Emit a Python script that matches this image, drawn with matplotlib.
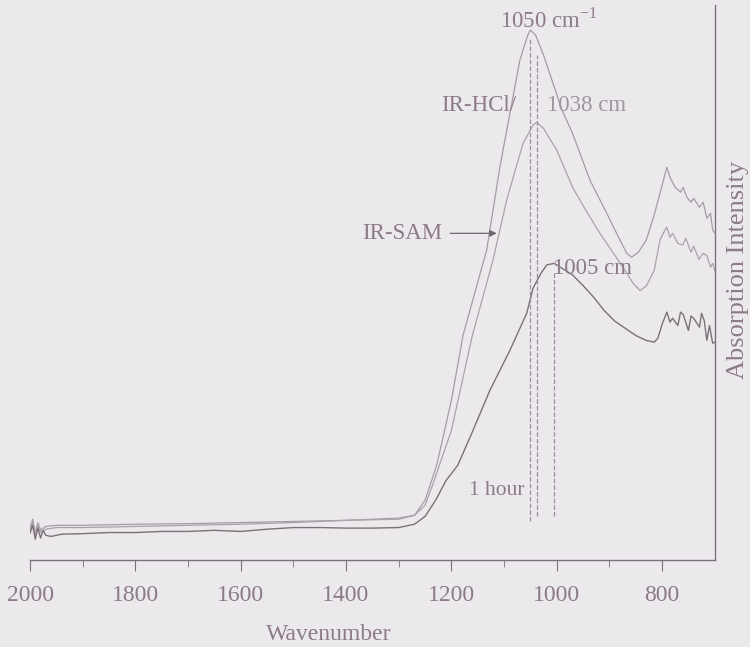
import matplotlib.pyplot as plt

plt.rcParams['font.family'] = ['Liberation Serif', 'DejaVu Serif']
plt.rcParams['mathtext.fontset'] = 'custom'
plt.rcParams['mathtext.rm'] = 'Liberation Serif'

# spectra (absorption in arbitrary units, 0 = axis line)
wn_1h = [2000, 1995, 1990, 1985, 1980, 1975, 1970, 1960, 1940, 1900, 1850, 1800, 1750,
         1700, 1650, 1600, 1550, 1500, 1450, 1400, 1350, 1300, 1270, 1250, 1230, 1210,
         1188, 1163, 1127, 1089, 1057, 1045, 1030, 1019, 1005, 990, 970, 950, 930, 910,
         890, 870, 850, 830, 815, 808, 800, 791, 785, 780, 770, 765, 760, 750, 745, 740,
         729, 725, 720, 715, 710, 704, 700]
ab_1h = [0.049, 0.063, 0.038, 0.058, 0.040, 0.054, 0.045, 0.043, 0.047, 0.048, 0.050,
         0.050, 0.052, 0.052, 0.054, 0.052, 0.056, 0.059, 0.059, 0.058, 0.058, 0.059,
         0.065, 0.079, 0.108, 0.144, 0.171, 0.225, 0.306, 0.378, 0.445, 0.490, 0.517,
         0.532, 0.535, 0.526, 0.514, 0.495, 0.474, 0.450, 0.431, 0.418, 0.405, 0.396,
         0.393, 0.400, 0.425, 0.447, 0.429, 0.436, 0.423, 0.447, 0.443, 0.414, 0.440,
         0.436, 0.420, 0.445, 0.432, 0.396, 0.423, 0.391, 0.393]

wn_hcl = [2000, 1995, 1990, 1985, 1980, 1970, 1950, 1900, 1800, 1700, 1600, 1500, 1400,
          1300, 1270, 1250, 1237, 1200, 1161, 1121, 1095, 1064, 1045, 1038, 1025, 1000,
          970, 945, 918, 890, 867, 855, 842, 830, 815, 804, 795, 791, 785, 780, 770, 761,
          755, 745, 740, 730, 722, 715, 708, 704, 700]
ab_hcl = [0.054, 0.070, 0.045, 0.065, 0.050, 0.056, 0.059, 0.059, 0.061, 0.063, 0.065,
          0.068, 0.072, 0.074, 0.081, 0.099, 0.132, 0.234, 0.402, 0.541, 0.649, 0.751,
          0.784, 0.789, 0.778, 0.739, 0.672, 0.631, 0.589, 0.550, 0.517, 0.499, 0.486,
          0.494, 0.522, 0.577, 0.594, 0.600, 0.582, 0.589, 0.571, 0.568, 0.580, 0.555,
          0.566, 0.542, 0.553, 0.549, 0.528, 0.535, 0.522]

wn_sam = [2000, 1995, 1990, 1985, 1980, 1970, 1950, 1900, 1800, 1700, 1600, 1500, 1400,
          1300, 1270, 1250, 1228, 1200, 1178, 1133, 1108, 1070, 1055, 1050, 1040, 1025,
          1007, 990, 970, 937, 905, 880, 867, 858, 845, 830, 815, 799, 791, 785, 775, 765,
          760, 753, 745, 740, 729, 722, 715, 708, 704, 700]
ab_sam = [0.058, 0.074, 0.050, 0.068, 0.054, 0.061, 0.063, 0.063, 0.065, 0.066, 0.068,
          0.070, 0.072, 0.076, 0.081, 0.108, 0.171, 0.288, 0.405, 0.559, 0.708, 0.901,
          0.946, 0.955, 0.946, 0.910, 0.859, 0.811, 0.769, 0.685, 0.625, 0.577, 0.553,
          0.546, 0.555, 0.577, 0.622, 0.679, 0.708, 0.690, 0.672, 0.663, 0.672, 0.654,
          0.645, 0.652, 0.636, 0.645, 0.616, 0.625, 0.595, 0.590]

peak_wn = [1050, 1038, 1005]
peak_lbl = ['1050 cm$^{-1}$', '1038 cm', '1005 cm']

txt_col = '#8c7a86'
bg = '#ece9ed'

fig = plt.figure(figsize=(7.5, 6.47), dpi=100, facecolor=bg)
ax = fig.add_axes([0.04, 0.134, 0.913, 0.858], facecolor=bg)

ax.plot(wn_sam, ab_sam, color='#a49ca3', lw=0.9)
ax.plot(wn_hcl, ab_hcl, color='#aaa2a8', lw=0.9)
ax.plot(wn_1h, ab_1h, color='#7b7177', lw=1.0)

# dashed peak markers
ax.axvline(peak_wn[0], ymin=0.07, ymax=0.94, color='#9a9199', ls='--', lw=0.9)
ax.axvline(peak_wn[1], ymin=0.08, ymax=0.91, color='#9a9199', ls='--', lw=0.9)
ax.axvline(peak_wn[2], ymin=0.08, ymax=0.52, color='#9a9199', ls='--', lw=0.9)

fs = 16.5
ax.text(1014, 0.973, peak_lbl[0], color=txt_col, fontsize=fs, ha='center', va='center')
ax.text(1019, 0.82, peak_lbl[1], color='#a0959c', fontsize=fs, ha='left', va='center')
ax.text(1076, 0.82, 'IR-HCl/', color=txt_col, fontsize=fs, ha='right', va='center')
ax.text(1008, 0.526, peak_lbl[2], color=txt_col, fontsize=fs, ha='left', va='center')
ax.text(1061, 0.126, '1 hour', color=txt_col, fontsize=fs - 1, ha='right', va='center')
ax.annotate('IR-SAM', xy=(1114, 0.589), xytext=(1218, 0.589), color=txt_col,
            fontsize=fs, ha='right', va='center',
            arrowprops=dict(arrowstyle='-|>', color='#6f6670', lw=0.9,
                            mutation_scale=10, shrinkA=4, shrinkB=0))

ax.set_xlim(2000, 700)
ax.set_ylim(0, 1)
ax.set_xticks([2000, 1800, 1600, 1400, 1200, 1000, 800])
ax.set_xticks(range(1900, 700, -200), minor=True)
ax.set_yticks([])
for s in ['left', 'top']:
    ax.spines[s].set_visible(False)
for s in ['right', 'bottom']:
    ax.spines[s].set_color('#7d7079')
    ax.spines[s].set_linewidth(1.0)
ax.tick_params(axis='x', which='major', direction='out', length=8, color='#7d7079',
               labelsize=17, labelcolor=txt_col, pad=10)
ax.tick_params(axis='x', which='minor', direction='out', length=5, color='#7d7079')
ax.set_xlabel('Wavenumber', color=txt_col, fontsize=17, labelpad=8)
ax.xaxis.set_label_coords(0.436, -0.115)
fig.text(738 / 750, 1 - 270 / 647, 'Absorption Intensity', color=txt_col, fontsize=19,
         rotation=90, ha='center', va='center')

fig.savefig('out.png', dpi=100, facecolor=bg)
